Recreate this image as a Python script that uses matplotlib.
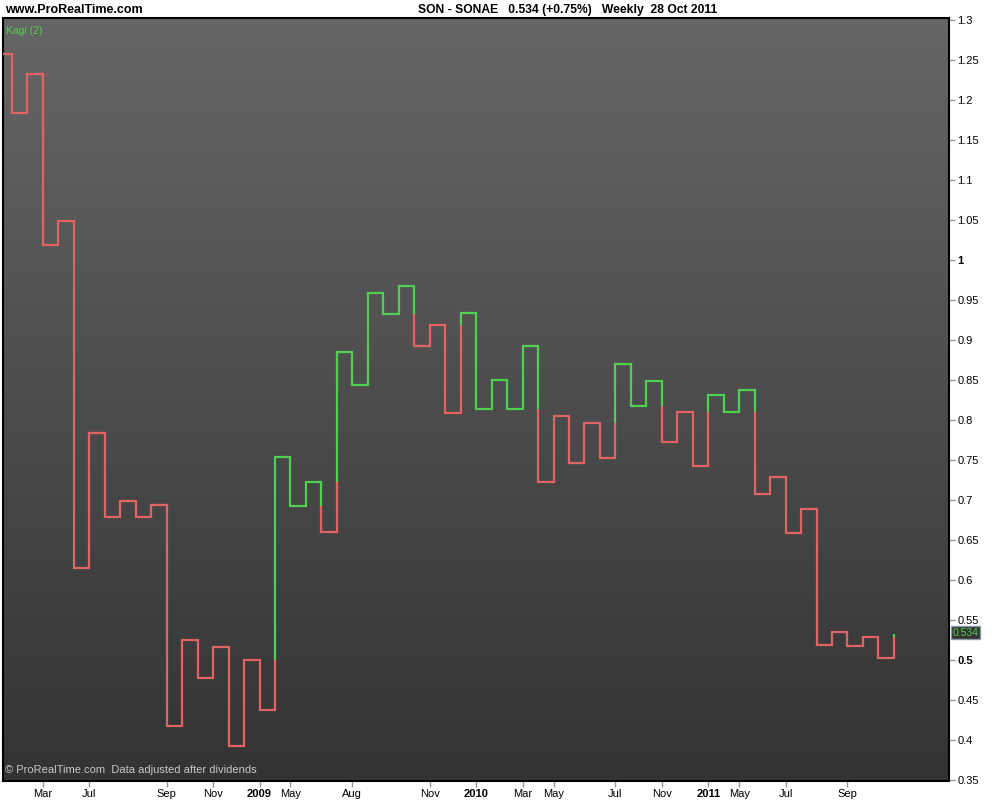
import matplotlib
matplotlib.use("Agg")
import matplotlib.pyplot as plt
import numpy as np
from matplotlib import transforms
from matplotlib.colors import LinearSegmentedColormap

plt.rcParams['font.family'] = ['Liberation Sans', 'DejaVu Sans']

# Kagi turning-point levels
kagi_levels = [1.2575, 1.184, 1.233, 1.019, 1.049, 0.615, 0.784, 0.679, 0.699, 0.679,
               0.694, 0.417, 0.525, 0.477, 0.516, 0.393, 0.500, 0.4375, 0.754, 0.6925,
               0.723, 0.660, 0.885, 0.844, 0.959, 0.932, 0.967, 0.8925, 0.919, 0.809,
               0.934, 0.814, 0.850, 0.814, 0.8925, 0.7225, 0.805, 0.746, 0.796, 0.7525,
               0.870, 0.8175, 0.849, 0.7725, 0.810, 0.743, 0.831, 0.810, 0.837, 0.7075,
               0.729, 0.659, 0.689, 0.519, 0.535, 0.517, 0.529, 0.503, 0.533]

x_tick_pos = [2, 5, 10, 13, 16, 18, 22, 27, 30, 33, 35, 39, 42, 45, 47, 50, 54]
x_tick_labels = ["Mar", "Jul", "Sep", "Nov", "2009", "May", "Aug", "Nov", "2010",
                 "Mar", "May", "Jul", "Nov", "2011", "May", "Jul", "Sep"]
y_ticks = [0.35, 0.40, 0.45, 0.50, 0.55, 0.60, 0.65, 0.70, 0.75, 0.80, 0.85, 0.90,
           0.95, 1.00, 1.05, 1.10, 1.15, 1.20, 1.25, 1.30]
last_price = 0.534

RED = "#e06464"
GREEN = "#50d050"

fig = plt.figure(figsize=(10, 8), dpi=100)
fig.patch.set_facecolor("white")
ax = fig.add_axes([0.003, 0.02375, 0.946, 0.95375])

XMIN, XMAX = -0.58, 60.56
YMIN, YMAX = 0.34875, 1.3025

# gradient background (light at top, dark at bottom)
grad = np.linspace(0, 1, 256).reshape(-1, 1)
cmap = LinearSegmentedColormap.from_list("bg", ["#666666", "#333333"])
ax.imshow(grad, cmap=cmap, aspect="auto", extent=[XMIN, XMAX, YMIN, YMAX],
          origin="upper", zorder=0)
ax.set_xlim(XMIN, XMAX)
ax.set_ylim(YMIN, YMAX)

# build kagi segments with colours
segs = []  # (x0,y0,x1,y1,color)
state = RED
L = kagi_levels
segs.append((XMIN, L[0], 0, L[0], state))
n = len(L)
for j in range(n - 1):
    a, b = L[j], L[j + 1]
    if j >= 1:
        ref = L[j - 1]
        if b > a and state == RED and b > ref:
            segs.append((j, a, j, ref, RED))
            segs.append((j, ref, j, b, GREEN))
            state = GREEN
        elif b < a and state == GREEN and b < ref:
            segs.append((j, a, j, ref, GREEN))
            segs.append((j, ref, j, b, RED))
            state = RED
        else:
            segs.append((j, a, j, b, state))
    else:
        segs.append((j, a, j, b, state))
    if j < n - 2:
        segs.append((j, b, j + 1, b, state))

# merge consecutive same-colour segments into polylines
runs = []
cur_col = None
cur = []
for x0, y0, x1, y1, c in segs:
    if c != cur_col:
        if cur:
            runs.append((cur_col, cur))
        cur_col = c
        cur = [(x0, y0), (x1, y1)]
    else:
        cur.append((x1, y1))
if cur:
    runs.append((cur_col, cur))
for c, pts in runs:
    xs, ys = zip(*pts)
    ax.plot(xs, ys, color=c, lw=1.6, solid_joinstyle="miter",
            solid_capstyle="butt", zorder=3)

# axes styling
for s in ax.spines.values():
    s.set_color("black")
    s.set_linewidth(1.5)

ax.yaxis.tick_right()
ax.set_yticks(y_ticks)
ylabels = [f"{v:.2f}".rstrip("0").rstrip(".") for v in y_ticks]
ax.set_yticklabels(ylabels)
for t, v in zip(ax.get_yticklabels(), y_ticks):
    if abs(v - 1.0) < 1e-9 or abs(v - 0.5) < 1e-9:
        t.set_fontweight("bold")
        t.set_fontsize(9)
ax.tick_params(axis="y", which="both", direction="out", length=4, width=1,
               color="#8a9aa8", labelsize=8, pad=2, labelcolor="black")

ax.set_xticks(x_tick_pos)
ax.set_xticklabels(x_tick_labels)
for t, lab in zip(ax.get_xticklabels(), x_tick_labels):
    if lab.isdigit():
        t.set_fontweight("bold")
        t.set_fontsize(9)
ax.tick_params(axis="x", which="both", direction="out", length=4, width=1,
               color="#8a9aa8", labelsize=8, pad=1.5, labelcolor="black")

# texts
fig.text(0.005, 0.9875, "www.ProRealTime.com", fontsize=9, fontweight="bold",
         ha="left", va="center")
fig.text(0.418, 0.9875, "SON - SONAE   0.534 (+0.75%)   Weekly  28 Oct 2011",
         fontsize=8.7, fontweight="bold", ha="left", va="center")
ax.text(0.003, 0.99, "Kagi (2)", transform=ax.transAxes, color="#50d050",
        fontsize=7.5, ha="left", va="top")
ax.text(0.002, 0.008, "\u00a9 ProRealTime.com  Data adjusted after dividends",
        transform=ax.transAxes, color="#c8c8c8", fontsize=8, ha="left", va="bottom")

trans = transforms.blended_transform_factory(ax.transAxes, ax.transData)
ax.text(1.004, last_price, f"{last_price:.3f}", transform=trans, color="#50d050",
        fontsize=7.5, ha="left", va="center", clip_on=False,
        bbox=dict(boxstyle="square,pad=0.15", facecolor="#333333",
                  edgecolor="#8a9aa8", linewidth=1))

fig.savefig("out.png", dpi=100)
